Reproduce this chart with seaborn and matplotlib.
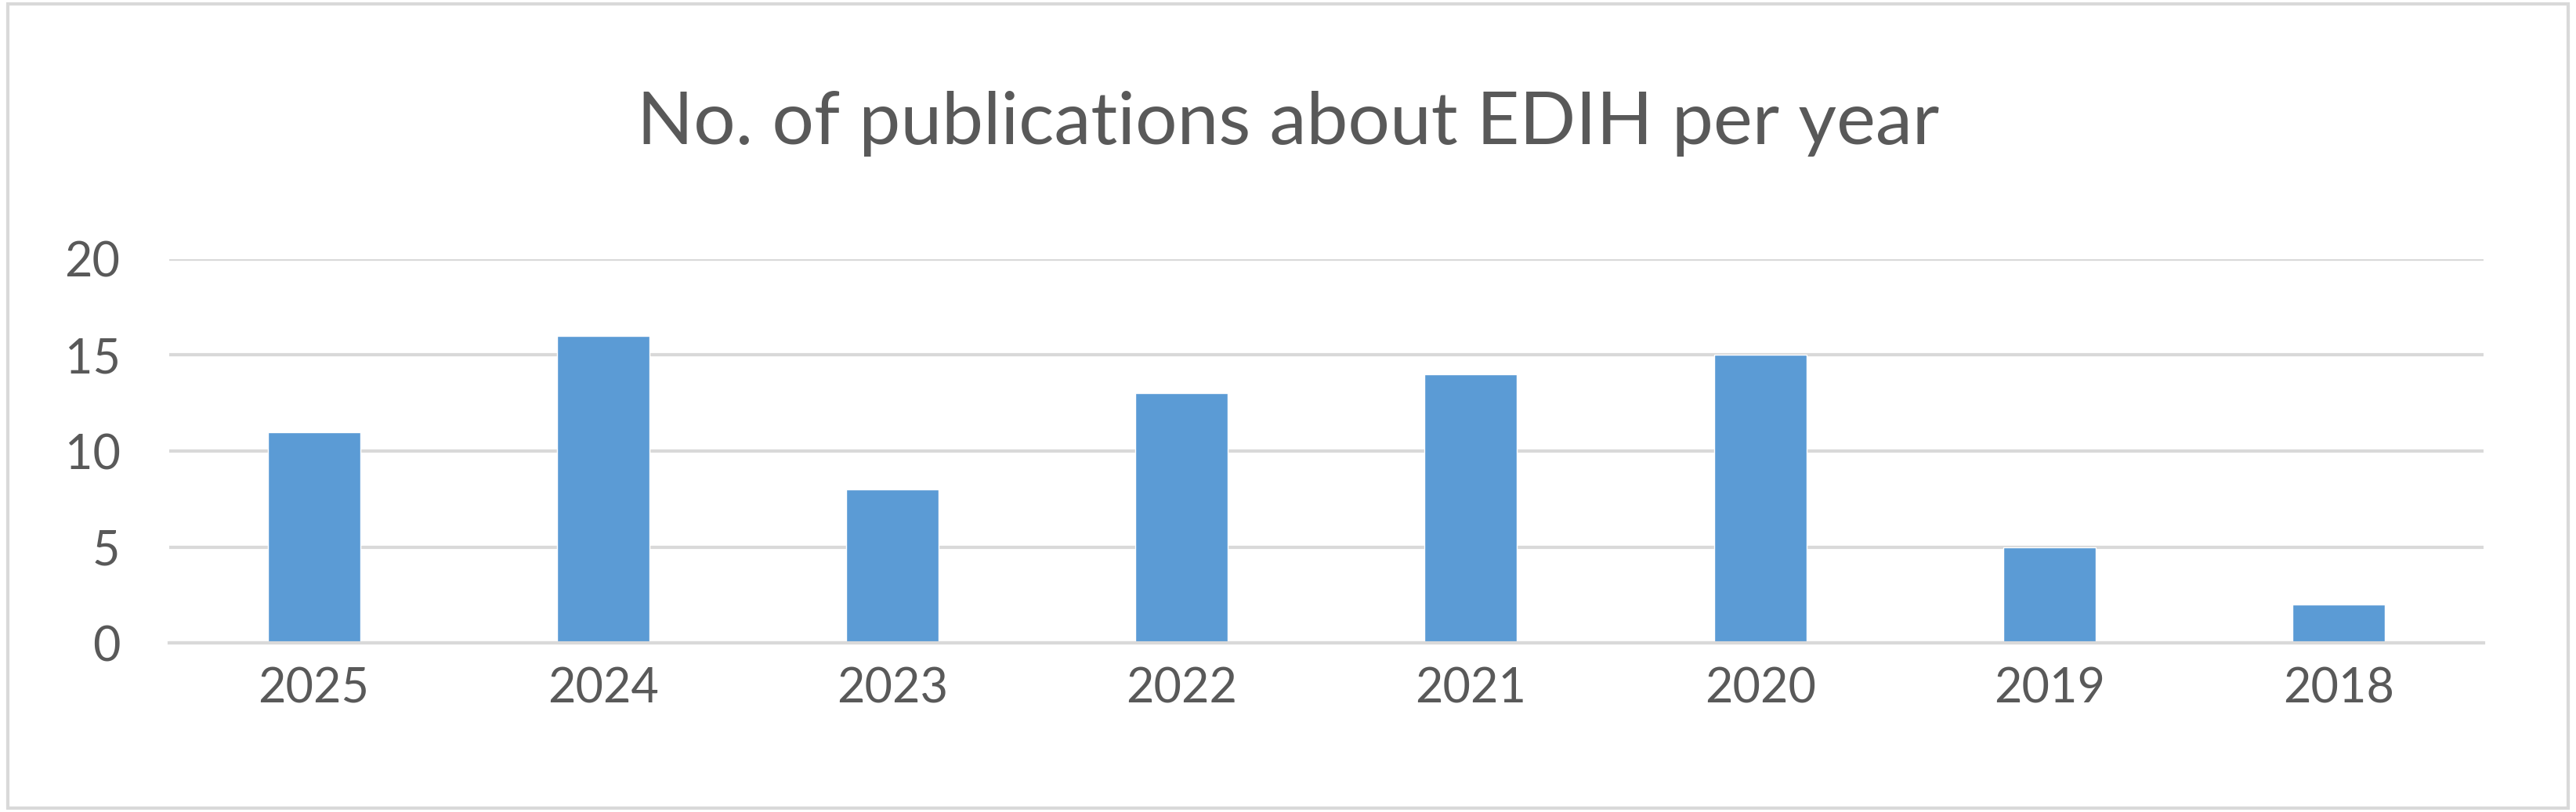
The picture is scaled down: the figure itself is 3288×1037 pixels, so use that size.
import matplotlib
matplotlib.use("Agg")
import matplotlib.pyplot as plt
import seaborn as sns
import pandas as pd
from matplotlib.patches import Rectangle

years = ["2025", "2024", "2023", "2022", "2021", "2020", "2019", "2018"]
counts = [11, 16, 8, 13, 14, 15, 5, 2]
title = "No. of publications about EDIH per year"

sns.set_theme(style="white")
plt.rcParams['font.family'] = ['Lato', 'DejaVu Sans']

fig = plt.figure(figsize=(32.88, 10.37), dpi=100)
ax = fig.add_axes([0.0657, 0.208, 0.8983, 0.473])
df = pd.DataFrame({"year": years, "count": counts})
sns.barplot(data=df, x="year", y="count", color="#5B9BD5", saturation=1, width=0.32, ax=ax, order=years)
ax.set_ylim(0, 20)
ax.set_yticks([0, 5, 10, 15, 20])
ax.yaxis.grid(True, color="#D9D9D9", linewidth=3)
ax.set_axisbelow(True)
for s in ["top", "right", "left"]:
    ax.spines[s].set_visible(False)
ax.spines["bottom"].set_color("#D9D9D9")
ax.spines["bottom"].set_linewidth(3)
ax.set_xlabel("")
ax.set_ylabel("")
ax.tick_params(axis="both", length=0, labelsize=44, labelcolor="#595959", pad=22)
ax.tick_params(axis="y", pad=45)
fig.text(0.5, 0.848, title, ha="center", va="center", fontsize=68, color="#595959")
fig.patches.append(Rectangle((0.003, 0.005), 0.994, 0.99, transform=fig.transFigure,
                             fill=False, edgecolor="#D9D9D9", linewidth=3))
fig.savefig("out.png", dpi=100)
